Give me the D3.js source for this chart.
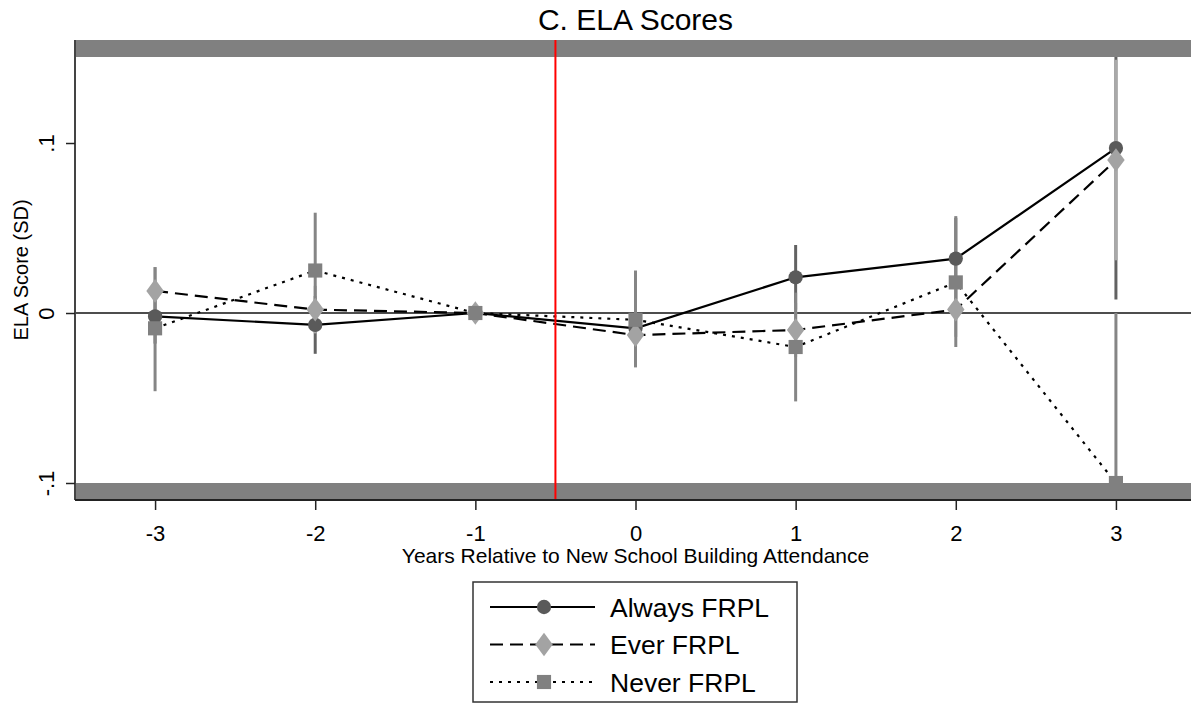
<!DOCTYPE html>
<html>
<head>
<meta charset="utf-8">
<script src="https://cdn.jsdelivr.net/npm/d3@7"></script>
<style>
  body { margin: 0; background: #fff; }
  svg { display: block; font-family: "Liberation Sans", Arial, sans-serif; }
</style>
</head>
<body>
<svg id="chart"></svg>
<script>
// event-study estimates
var years = [-3, -2, -1, 0, 1, 2, 3];
var xTicks = [-3, -2, -1, 0, 1, 2, 3];
var yTicks = [-0.1, 0, 0.1];
var yTickLabels = ["-.1", "0", ".1"];

var alwaysEst = [-0.002, -0.007, 0, -0.009, 0.021, 0.032, 0.097];
var alwaysLo = [-0.018, -0.024, 0, -0.025, 0.002, 0.008, 0.008];
var alwaysHi = [0.014, 0.010, 0, 0.007, 0.040, 0.056, 0.186];

var everEst = [0.013, 0.002, 0, -0.013, -0.010, 0.002, 0.090];
var everLo = [-0.001, -0.012, 0, -0.029, -0.026, -0.014, 0.031];
var everHi = [0.027, 0.016, 0, 0.003, 0.006, 0.018, 0.149];

var neverEst = [-0.009, 0.025, 0, -0.004, -0.020, 0.018, -0.100];
var neverLo = [-0.046, -0.009, 0, -0.032, -0.052, -0.020, -0.200];
var neverHi = [0.027, 0.059, 0, 0.025, 0.012, 0.057, 0.000];

var seriesNames = ["Always FRPL", "Ever FRPL", "Never FRPL"];

var w = 1191, h = 706;
var margin = { top: 40, bottom: 206, left: 75, right: -5 };

var svg = d3.select("#chart").attr("width", w).attr("height", h);

var xScale = d3.scaleLinear()
  .domain([-3.5, 3.5])
  .range([margin.left, w - margin.right]);

var yScale = d3.scaleLinear()
  .domain([-0.11, 0.1606])
  .range([h - margin.bottom, margin.top]);

function pack(est, lo, hi) {
  return years.map(function(y, i) {
    return { x: y, est: est[i], lo: lo[i], hi: hi[i] };
  });
}

var series = [
  { name: seriesNames[0], data: pack(alwaysEst, alwaysLo, alwaysHi), color: "#5a5a5a", ci: "#626262", dash: null, shape: d3.symbolCircle, size: 160 },
  { name: seriesNames[1], data: pack(everEst, everLo, everHi), color: "#a3a3a3", ci: "#a9a9a9", dash: "13,7", shape: d3.symbolDiamond, size: 200 },
  { name: seriesNames[2], data: pack(neverEst, neverLo, neverHi), color: "#808080", ci: "#858585", dash: "3,6", shape: d3.symbolSquare, size: 200 }
];

svg.append("defs").append("clipPath").attr("id", "plotclip")
  .append("rect")
  .attr("x", margin.left)
  .attr("y", margin.top)
  .attr("width", w - margin.left)
  .attr("height", h - margin.top - margin.bottom);

var plot = svg.append("g").attr("clip-path", "url(#plotclip)");

// zero reference line
plot.append("line")
  .attr("x1", margin.left).attr("x2", w)
  .attr("y1", yScale(0)).attr("y2", yScale(0))
  .attr("stroke", "#4d4d4d").attr("stroke-width", 2);

// confidence intervals
series.forEach(function(s) {
  plot.selectAll(null)
    .data(s.data.filter(function(d) { return d.hi !== d.lo; }))
    .enter()
    .append("line")
    .attr("x1", function(d) { return xScale(d.x); })
    .attr("x2", function(d) { return xScale(d.x); })
    .attr("y1", function(d) { return yScale(d.lo); })
    .attr("y2", function(d) { return yScale(d.hi); })
    .attr("stroke", s.ci)
    .attr("stroke-width", 3);
});

// gray bands at top and bottom of plot region
plot.append("rect")
  .attr("x", margin.left).attr("width", w)
  .attr("y", yScale(0.1606)).attr("height", yScale(0.1506) - yScale(0.1606))
  .attr("fill", "#808080");
plot.append("rect")
  .attr("x", margin.left).attr("width", w)
  .attr("y", yScale(-0.1)).attr("height", yScale(-0.11) - yScale(-0.1))
  .attr("fill", "#808080");

// series lines
var line = d3.line()
  .x(function(d) { return xScale(d.x); })
  .y(function(d) { return yScale(d.est); });

series.forEach(function(s) {
  plot.append("path")
    .datum(s.data)
    .attr("d", line)
    .attr("fill", "none")
    .attr("stroke", "#000")
    .attr("stroke-width", 2.2)
    .attr("stroke-dasharray", s.dash);
});

// markers
series.forEach(function(s) {
  svg.selectAll(null)
    .data(s.data)
    .enter()
    .append("path")
    .attr("d", d3.symbol().type(s.shape).size(s.size))
    .attr("transform", function(d) {
      return "translate(" + xScale(d.x) + "," + yScale(d.est) + ")" +
        (s.shape === d3.symbolDiamond ? " scale(1.15,0.9)" : "");
    })
    .attr("fill", s.color);
});

// treatment line
svg.append("line")
  .attr("x1", xScale(-0.5)).attr("x2", xScale(-0.5))
  .attr("y1", margin.top).attr("y2", h - margin.bottom)
  .attr("stroke", "#ff0000").attr("stroke-width", 2);

// axes
var yAxis = d3.axisLeft(yScale)
  .tickValues(yTicks)
  .tickSize(9)
  .tickFormat(function(d, i) { return yTickLabels[i]; });

var yg = svg.append("g")
  .attr("transform", "translate(" + margin.left + ",0)")
  .call(yAxis);
yg.select(".domain").attr("stroke", "#444").attr("stroke-width", 2)
  .attr("d", "M0," + margin.top + "V" + (h - margin.bottom));
yg.selectAll(".tick line").attr("stroke", "#222").attr("stroke-width", 1.5);
yg.selectAll(".tick text")
  .attr("x", null).attr("dy", null)
  .attr("transform", "translate(-21,0) rotate(-90)")
  .attr("text-anchor", "middle")
  .attr("font-size", 22)
  .attr("font-family", "Liberation Sans, Arial, sans-serif")
  .attr("fill", "#000");

var xAxis = d3.axisBottom(xScale)
  .tickValues(xTicks)
  .tickSize(10)
  .tickFormat(function(d) { return String(d); });

var xg = svg.append("g")
  .attr("transform", "translate(0," + (h - margin.bottom) + ")")
  .call(xAxis);
xg.select(".domain").attr("stroke", "#222").attr("stroke-width", 2)
  .attr("d", "M" + margin.left + ",0H" + w);
xg.selectAll(".tick line").attr("stroke", "#222").attr("stroke-width", 1.5);
xg.selectAll(".tick text")
  .attr("y", 41).attr("dy", null)
  .attr("font-size", 22)
  .attr("font-family", "Liberation Sans, Arial, sans-serif")
  .attr("fill", "#000");

var cx = (margin.left + w - margin.right) / 2;

// titles
svg.append("text")
  .attr("x", cx).attr("y", 30)
  .attr("text-anchor", "middle")
  .attr("font-size", 30)
  .text("C. ELA Scores");

svg.append("text")
  .attr("x", cx).attr("y", 563)
  .attr("text-anchor", "middle")
  .attr("font-size", 21)
  .text("Years Relative to New School Building Attendance");

svg.append("text")
  .attr("transform", "translate(28," + ((margin.top + h - margin.bottom) / 2) + ") rotate(-90)")
  .attr("text-anchor", "middle")
  .attr("font-size", 20)
  .text("ELA Score (SD)");

// legend
var lg = svg.append("g").attr("transform", "translate(473,582)");
lg.append("rect")
  .attr("x", 0).attr("y", 0)
  .attr("width", 324).attr("height", 120)
  .attr("fill", "#fff")
  .attr("stroke", "#333").attr("stroke-width", 1.5);

var rows = lg.selectAll("g.row")
  .data(series)
  .enter()
  .append("g")
  .attr("class", "row")
  .attr("transform", function(d, i) { return "translate(0," + (25 + i * 37.5) + ")"; });

rows.append("line")
  .attr("x1", 17).attr("x2", 122)
  .attr("stroke", "#000").attr("stroke-width", 1.8)
  .attr("stroke-dasharray", function(d) { return d.dash; });

rows.append("path")
  .attr("d", function(d) { return d3.symbol().type(d.shape).size(d.size)(); })
  .attr("transform", function(d) {
    return "translate(71,0)" + (d.shape === d3.symbolDiamond ? " scale(1.15,0.9)" : "");
  })
  .attr("fill", function(d) { return d.color; });

rows.append("text")
  .attr("x", 137).attr("y", 9.5)
  .attr("font-size", 26.5)
  .text(function(d) { return d.name; });
</script>
</body>
</html>
